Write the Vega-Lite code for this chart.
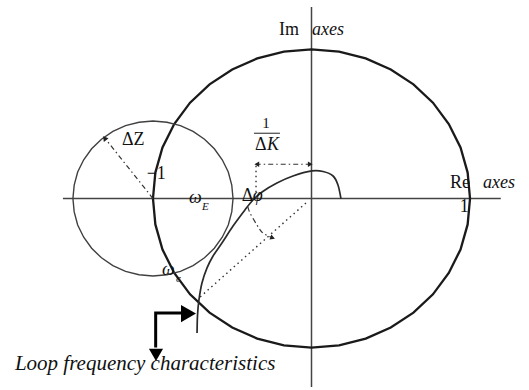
{
  "$schema": "https://vega.github.io/schema/vega-lite/v6.json",
  "width": 529,
  "height": 390,
  "autosize": {"type": "fit", "contains": "padding"},
  "padding": 0,
  "background": "white",
  "config": {"view": {"stroke": null}},
  "datasets": {
    "axes": [
      {"x": -1.568, "y": 0, "x2": 1.194, "y2": 0},
      {"x": 0, "y": 1.285, "x2": 0, "y2": -1.265}
    ],
    "bigCircle": [
      {"i": 0, "x": 1, "y": 0}, {"i": 1, "x": 0.985, "y": 0.174}, {"i": 2, "x": 0.94, "y": 0.342},
      {"i": 3, "x": 0.866, "y": 0.5}, {"i": 4, "x": 0.766, "y": 0.643}, {"i": 5, "x": 0.643, "y": 0.766},
      {"i": 6, "x": 0.5, "y": 0.866}, {"i": 7, "x": 0.342, "y": 0.94}, {"i": 8, "x": 0.174, "y": 0.985},
      {"i": 9, "x": 0, "y": 1}, {"i": 10, "x": -0.174, "y": 0.985}, {"i": 11, "x": -0.342, "y": 0.94},
      {"i": 12, "x": -0.5, "y": 0.866}, {"i": 13, "x": -0.643, "y": 0.766}, {"i": 14, "x": -0.766, "y": 0.643},
      {"i": 15, "x": -0.866, "y": 0.5}, {"i": 16, "x": -0.94, "y": 0.342}, {"i": 17, "x": -0.985, "y": 0.174},
      {"i": 18, "x": -1, "y": 0}, {"i": 19, "x": -0.985, "y": -0.174}, {"i": 20, "x": -0.94, "y": -0.342},
      {"i": 21, "x": -0.866, "y": -0.5}, {"i": 22, "x": -0.766, "y": -0.643}, {"i": 23, "x": -0.643, "y": -0.766},
      {"i": 24, "x": -0.5, "y": -0.866}, {"i": 25, "x": -0.342, "y": -0.94}, {"i": 26, "x": -0.174, "y": -0.985},
      {"i": 27, "x": 0, "y": -1}, {"i": 28, "x": 0.174, "y": -0.985}, {"i": 29, "x": 0.342, "y": -0.94},
      {"i": 30, "x": 0.5, "y": -0.866}, {"i": 31, "x": 0.643, "y": -0.766}, {"i": 32, "x": 0.766, "y": -0.643},
      {"i": 33, "x": 0.866, "y": -0.5}, {"i": 34, "x": 0.94, "y": -0.342}, {"i": 35, "x": 0.985, "y": -0.174},
      {"i": 36, "x": 1, "y": 0}
    ],
    "smallCircle": [
      {"i": 0, "x": -0.495, "y": 0}, {"i": 1, "x": -0.503, "y": 0.09}, {"i": 2, "x": -0.525, "y": 0.178},
      {"i": 3, "x": -0.563, "y": 0.26}, {"i": 4, "x": -0.613, "y": 0.334}, {"i": 5, "x": -0.675, "y": 0.398},
      {"i": 6, "x": -0.747, "y": 0.45}, {"i": 7, "x": -0.827, "y": 0.489}, {"i": 8, "x": -0.912, "y": 0.512},
      {"i": 9, "x": -1, "y": 0.52}, {"i": 10, "x": -1.088, "y": 0.512}, {"i": 11, "x": -1.173, "y": 0.489},
      {"i": 12, "x": -1.253, "y": 0.45}, {"i": 13, "x": -1.325, "y": 0.398}, {"i": 14, "x": -1.387, "y": 0.334},
      {"i": 15, "x": -1.437, "y": 0.26}, {"i": 16, "x": -1.475, "y": 0.178}, {"i": 17, "x": -1.497, "y": 0.09},
      {"i": 18, "x": -1.505, "y": 0}, {"i": 19, "x": -1.497, "y": -0.09}, {"i": 20, "x": -1.475, "y": -0.178},
      {"i": 21, "x": -1.437, "y": -0.26}, {"i": 22, "x": -1.387, "y": -0.334}, {"i": 23, "x": -1.325, "y": -0.398},
      {"i": 24, "x": -1.253, "y": -0.45}, {"i": 25, "x": -1.173, "y": -0.489}, {"i": 26, "x": -1.088, "y": -0.512},
      {"i": 27, "x": -1, "y": -0.52}, {"i": 28, "x": -0.912, "y": -0.512}, {"i": 29, "x": -0.827, "y": -0.489},
      {"i": 30, "x": -0.747, "y": -0.45}, {"i": 31, "x": -0.675, "y": -0.398}, {"i": 32, "x": -0.613, "y": -0.334},
      {"i": 33, "x": -0.563, "y": -0.26}, {"i": 34, "x": -0.525, "y": -0.178}, {"i": 35, "x": -0.503, "y": -0.09},
      {"i": 36, "x": -0.495, "y": 0}
    ],
    "nyquist": [
      {"i": 0, "x": -0.722, "y": -0.903}, {"i": 1, "x": -0.719, "y": -0.782}, {"i": 2, "x": -0.71, "y": -0.681},
      {"i": 3, "x": -0.691, "y": -0.567}, {"i": 4, "x": -0.659, "y": -0.466}, {"i": 5, "x": -0.621, "y": -0.386},
      {"i": 6, "x": -0.565, "y": -0.299}, {"i": 7, "x": -0.495, "y": -0.185}, {"i": 8, "x": -0.42, "y": -0.077},
      {"i": 9, "x": -0.369, "y": -0.01}, {"i": 10, "x": -0.312, "y": 0.044}, {"i": 11, "x": -0.218, "y": 0.104},
      {"i": 12, "x": -0.117, "y": 0.151}, {"i": 13, "x": 0.003, "y": 0.185}, {"i": 14, "x": 0.073, "y": 0.181},
      {"i": 15, "x": 0.136, "y": 0.151}, {"i": 16, "x": 0.167, "y": 0.091}, {"i": 17, "x": 0.186, "y": -0.003}
    ],
    "dashdot": [
      {"x": -1, "y": 0, "x2": -1.3, "y2": 0.4},
      {"x": -0.005, "y": 0.23, "x2": -0.35, "y2": 0.23}
    ],
    "dotted": [
      {"x": -0.035, "y": -0.03, "x2": -0.703, "y2": -0.661},
      {"x": -0.35, "y": 0.22, "x2": -0.35, "y2": 0.03}
    ],
    "arc": [
      {"i": 0, "x": -0.401, "y": -0.057}, {"i": 1, "x": -0.388, "y": -0.097}, {"i": 2, "x": -0.344, "y": -0.178},
      {"i": 3, "x": -0.306, "y": -0.232}, {"i": 4, "x": -0.25, "y": -0.262}
    ],
    "fracbar": [{"x": -0.363, "y": 0.438, "x2": -0.199, "y2": 0.438}],
    "bigArrow": [
      {"i": 0, "x": -0.983, "y": -1.0}, {"i": 1, "x": -0.983, "y": -0.768}, {"i": 2, "x": -0.81, "y": -0.768}
    ],
    "headRight": [{"x": -0.776, "y": -0.772}],
    "headDown": [{"x": -0.981, "y": -1.05}],
    "tipZ": [{"x": -1.305, "y": 0.405}],
    "tipLeft": [{"x": -0.345, "y": 0.23}],
    "tipRight": [{"x": -0.008, "y": 0.23}],
    "tipArc": [{"x": -0.245, "y": -0.264}],
    "textNormal": [
      {"x": -0.205, "y": 1.097, "t": "Im"},
      {"x": 0.874, "y": 0.07, "t": "Re"},
      {"x": 0.935, "y": -0.091, "t": "1"},
      {"x": -1.04, "y": 0.131, "t": "−1"},
      {"x": -1.196, "y": 0.359, "t": "ΔZ"},
      {"x": -0.356, "y": 0.326, "t": "Δ"},
      {"x": -0.44, "y": -0.017, "t": "Δ"}
    ],
    "textItalic": [
      {"x": 0.003, "y": 1.097, "t": "axes"},
      {"x": 1.082, "y": 0.07, "t": "axes"},
      {"x": -0.281, "y": 0.326, "t": "K"},
      {"x": -0.37, "y": -0.017, "t": "φ"},
      {"x": -0.773, "y": -0.03, "t": "ω"},
      {"x": -0.943, "y": -0.513, "t": "ω"}
    ],
    "textSub": [
      {"x": -0.69, "y": -0.077, "t": "E"},
      {"x": -0.855, "y": -0.56, "t": "c"}
    ],
    "textFrac": [{"x": -0.287, "y": 0.473, "t": "1"}],
    "textCaption": [{"x": -1.871, "y": -1.151, "t": "Loop frequency characteristics"}]
  },
  "layer": [
    {
      "data": {"name": "axes"},
      "mark": {"type": "rule", "color": "#444444", "strokeWidth": 1.5},
      "encoding": {
        "x": {"field": "x", "type": "quantitative", "scale": {"domain": [-1.965, 1.372], "nice": false, "zero": false}, "axis": null},
        "y": {"field": "y", "type": "quantitative", "scale": {"domain": [-1.285, 1.332], "nice": false, "zero": false}, "axis": null},
        "x2": {"field": "x2"},
        "y2": {"field": "y2"}
      }
    },
    {
      "data": {"name": "bigCircle"},
      "mark": {"type": "line", "color": "#1a1a1a", "strokeWidth": 2.3},
      "encoding": {
        "x": {"field": "x", "type": "quantitative", "scale": {"domain": [-1.965, 1.372], "nice": false, "zero": false}, "axis": null},
        "y": {"field": "y", "type": "quantitative", "scale": {"domain": [-1.285, 1.332], "nice": false, "zero": false}, "axis": null},
        "order": {"field": "i", "type": "quantitative"}
      }
    },
    {
      "data": {"name": "smallCircle"},
      "mark": {"type": "line", "color": "#404040", "strokeWidth": 1.4},
      "encoding": {
        "x": {"field": "x", "type": "quantitative", "scale": {"domain": [-1.965, 1.372], "nice": false, "zero": false}, "axis": null},
        "y": {"field": "y", "type": "quantitative", "scale": {"domain": [-1.285, 1.332], "nice": false, "zero": false}, "axis": null},
        "order": {"field": "i", "type": "quantitative"}
      }
    },
    {
      "data": {"name": "nyquist"},
      "mark": {"type": "line", "color": "#2a2a2a", "strokeWidth": 1.7, "interpolate": "cardinal"},
      "encoding": {
        "x": {"field": "x", "type": "quantitative", "scale": {"domain": [-1.965, 1.372], "nice": false, "zero": false}, "axis": null},
        "y": {"field": "y", "type": "quantitative", "scale": {"domain": [-1.285, 1.332], "nice": false, "zero": false}, "axis": null},
        "order": {"field": "i", "type": "quantitative"}
      }
    },
    {
      "data": {"name": "dashdot"},
      "mark": {"type": "rule", "color": "#333333", "strokeWidth": 1.2, "strokeDash": [5, 3, 1.5, 3]},
      "encoding": {
        "x": {"field": "x", "type": "quantitative", "scale": {"domain": [-1.965, 1.372], "nice": false, "zero": false}, "axis": null},
        "y": {"field": "y", "type": "quantitative", "scale": {"domain": [-1.285, 1.332], "nice": false, "zero": false}, "axis": null},
        "x2": {"field": "x2"},
        "y2": {"field": "y2"}
      }
    },
    {
      "data": {"name": "dotted"},
      "mark": {"type": "rule", "color": "#333333", "strokeWidth": 1.4, "strokeDash": [1.5, 3.5]},
      "encoding": {
        "x": {"field": "x", "type": "quantitative", "scale": {"domain": [-1.965, 1.372], "nice": false, "zero": false}, "axis": null},
        "y": {"field": "y", "type": "quantitative", "scale": {"domain": [-1.285, 1.332], "nice": false, "zero": false}, "axis": null},
        "x2": {"field": "x2"},
        "y2": {"field": "y2"}
      }
    },
    {
      "data": {"name": "arc"},
      "mark": {"type": "line", "color": "#333333", "strokeWidth": 1.2, "strokeDash": [5, 3, 1.5, 3], "interpolate": "cardinal"},
      "encoding": {
        "x": {"field": "x", "type": "quantitative", "scale": {"domain": [-1.965, 1.372], "nice": false, "zero": false}, "axis": null},
        "y": {"field": "y", "type": "quantitative", "scale": {"domain": [-1.285, 1.332], "nice": false, "zero": false}, "axis": null},
        "order": {"field": "i", "type": "quantitative"}
      }
    },
    {
      "data": {"name": "fracbar"},
      "mark": {"type": "rule", "color": "#222222", "strokeWidth": 1},
      "encoding": {
        "x": {"field": "x", "type": "quantitative", "scale": {"domain": [-1.965, 1.372], "nice": false, "zero": false}, "axis": null},
        "y": {"field": "y", "type": "quantitative", "scale": {"domain": [-1.285, 1.332], "nice": false, "zero": false}, "axis": null},
        "x2": {"field": "x2"},
        "y2": {"field": "y2"}
      }
    },
    {
      "data": {"name": "bigArrow"},
      "mark": {"type": "line", "color": "#000000", "strokeWidth": 3, "strokeJoin": "miter", "strokeCap": "butt"},
      "encoding": {
        "x": {"field": "x", "type": "quantitative", "scale": {"domain": [-1.965, 1.372], "nice": false, "zero": false}, "axis": null},
        "y": {"field": "y", "type": "quantitative", "scale": {"domain": [-1.285, 1.332], "nice": false, "zero": false}, "axis": null},
        "order": {"field": "i", "type": "quantitative"}
      }
    },
    {
      "data": {"name": "headRight"},
      "mark": {"type": "point", "shape": "triangle-right", "size": 300, "filled": true, "color": "#000000", "opacity": 1},
      "encoding": {
        "x": {"field": "x", "type": "quantitative", "scale": {"domain": [-1.965, 1.372], "nice": false, "zero": false}, "axis": null},
        "y": {"field": "y", "type": "quantitative", "scale": {"domain": [-1.285, 1.332], "nice": false, "zero": false}, "axis": null}
      }
    },
    {
      "data": {"name": "headDown"},
      "mark": {"type": "point", "shape": "triangle-down", "size": 200, "filled": true, "color": "#000000", "opacity": 1},
      "encoding": {
        "x": {"field": "x", "type": "quantitative", "scale": {"domain": [-1.965, 1.372], "nice": false, "zero": false}, "axis": null},
        "y": {"field": "y", "type": "quantitative", "scale": {"domain": [-1.285, 1.332], "nice": false, "zero": false}, "axis": null}
      }
    },
    {
      "data": {"name": "tipZ"},
      "mark": {"type": "point", "shape": "triangle-up", "size": 35, "filled": true, "color": "#222222", "opacity": 1, "angle": 322},
      "encoding": {
        "x": {"field": "x", "type": "quantitative", "scale": {"domain": [-1.965, 1.372], "nice": false, "zero": false}, "axis": null},
        "y": {"field": "y", "type": "quantitative", "scale": {"domain": [-1.285, 1.332], "nice": false, "zero": false}, "axis": null}
      }
    },
    {
      "data": {"name": "tipLeft"},
      "mark": {"type": "point", "shape": "triangle-left", "size": 30, "filled": true, "color": "#222222", "opacity": 1},
      "encoding": {
        "x": {"field": "x", "type": "quantitative", "scale": {"domain": [-1.965, 1.372], "nice": false, "zero": false}, "axis": null},
        "y": {"field": "y", "type": "quantitative", "scale": {"domain": [-1.285, 1.332], "nice": false, "zero": false}, "axis": null}
      }
    },
    {
      "data": {"name": "tipRight"},
      "mark": {"type": "point", "shape": "triangle-right", "size": 30, "filled": true, "color": "#222222", "opacity": 1},
      "encoding": {
        "x": {"field": "x", "type": "quantitative", "scale": {"domain": [-1.965, 1.372], "nice": false, "zero": false}, "axis": null},
        "y": {"field": "y", "type": "quantitative", "scale": {"domain": [-1.285, 1.332], "nice": false, "zero": false}, "axis": null}
      }
    },
    {
      "data": {"name": "tipArc"},
      "mark": {"type": "point", "shape": "triangle-right", "size": 30, "filled": true, "color": "#222222", "opacity": 1, "angle": 20},
      "encoding": {
        "x": {"field": "x", "type": "quantitative", "scale": {"domain": [-1.965, 1.372], "nice": false, "zero": false}, "axis": null},
        "y": {"field": "y", "type": "quantitative", "scale": {"domain": [-1.285, 1.332], "nice": false, "zero": false}, "axis": null}
      }
    },
    {
      "data": {"name": "textNormal"},
      "mark": {"type": "text", "font": "Liberation Serif, DejaVu Serif, serif", "fontSize": 18, "align": "left", "baseline": "alphabetic", "color": "#111111"},
      "encoding": {
        "x": {"field": "x", "type": "quantitative", "scale": {"domain": [-1.965, 1.372], "nice": false, "zero": false}, "axis": null},
        "y": {"field": "y", "type": "quantitative", "scale": {"domain": [-1.285, 1.332], "nice": false, "zero": false}, "axis": null},
        "text": {"field": "t"}
      }
    },
    {
      "data": {"name": "textItalic"},
      "mark": {"type": "text", "font": "Liberation Serif, DejaVu Serif, serif", "fontStyle": "italic", "fontSize": 18, "align": "left", "baseline": "alphabetic", "color": "#111111"},
      "encoding": {
        "x": {"field": "x", "type": "quantitative", "scale": {"domain": [-1.965, 1.372], "nice": false, "zero": false}, "axis": null},
        "y": {"field": "y", "type": "quantitative", "scale": {"domain": [-1.285, 1.332], "nice": false, "zero": false}, "axis": null},
        "text": {"field": "t"}
      }
    },
    {
      "data": {"name": "textSub"},
      "mark": {"type": "text", "font": "Liberation Serif, DejaVu Serif, serif", "fontStyle": "italic", "fontSize": 11, "align": "left", "baseline": "alphabetic", "color": "#111111"},
      "encoding": {
        "x": {"field": "x", "type": "quantitative", "scale": {"domain": [-1.965, 1.372], "nice": false, "zero": false}, "axis": null},
        "y": {"field": "y", "type": "quantitative", "scale": {"domain": [-1.285, 1.332], "nice": false, "zero": false}, "axis": null},
        "text": {"field": "t"}
      }
    },
    {
      "data": {"name": "textFrac"},
      "mark": {"type": "text", "font": "Liberation Serif, DejaVu Serif, serif", "fontSize": 15, "align": "center", "baseline": "alphabetic", "color": "#111111"},
      "encoding": {
        "x": {"field": "x", "type": "quantitative", "scale": {"domain": [-1.965, 1.372], "nice": false, "zero": false}, "axis": null},
        "y": {"field": "y", "type": "quantitative", "scale": {"domain": [-1.285, 1.332], "nice": false, "zero": false}, "axis": null},
        "text": {"field": "t"}
      }
    },
    {
      "data": {"name": "textCaption"},
      "mark": {"type": "text", "font": "Liberation Serif, DejaVu Serif, serif", "fontStyle": "italic", "fontSize": 21, "align": "left", "baseline": "alphabetic", "color": "#111111"},
      "encoding": {
        "x": {"field": "x", "type": "quantitative", "scale": {"domain": [-1.965, 1.372], "nice": false, "zero": false}, "axis": null},
        "y": {"field": "y", "type": "quantitative", "scale": {"domain": [-1.285, 1.332], "nice": false, "zero": false}, "axis": null},
        "text": {"field": "t"}
      }
    }
  ]
}
